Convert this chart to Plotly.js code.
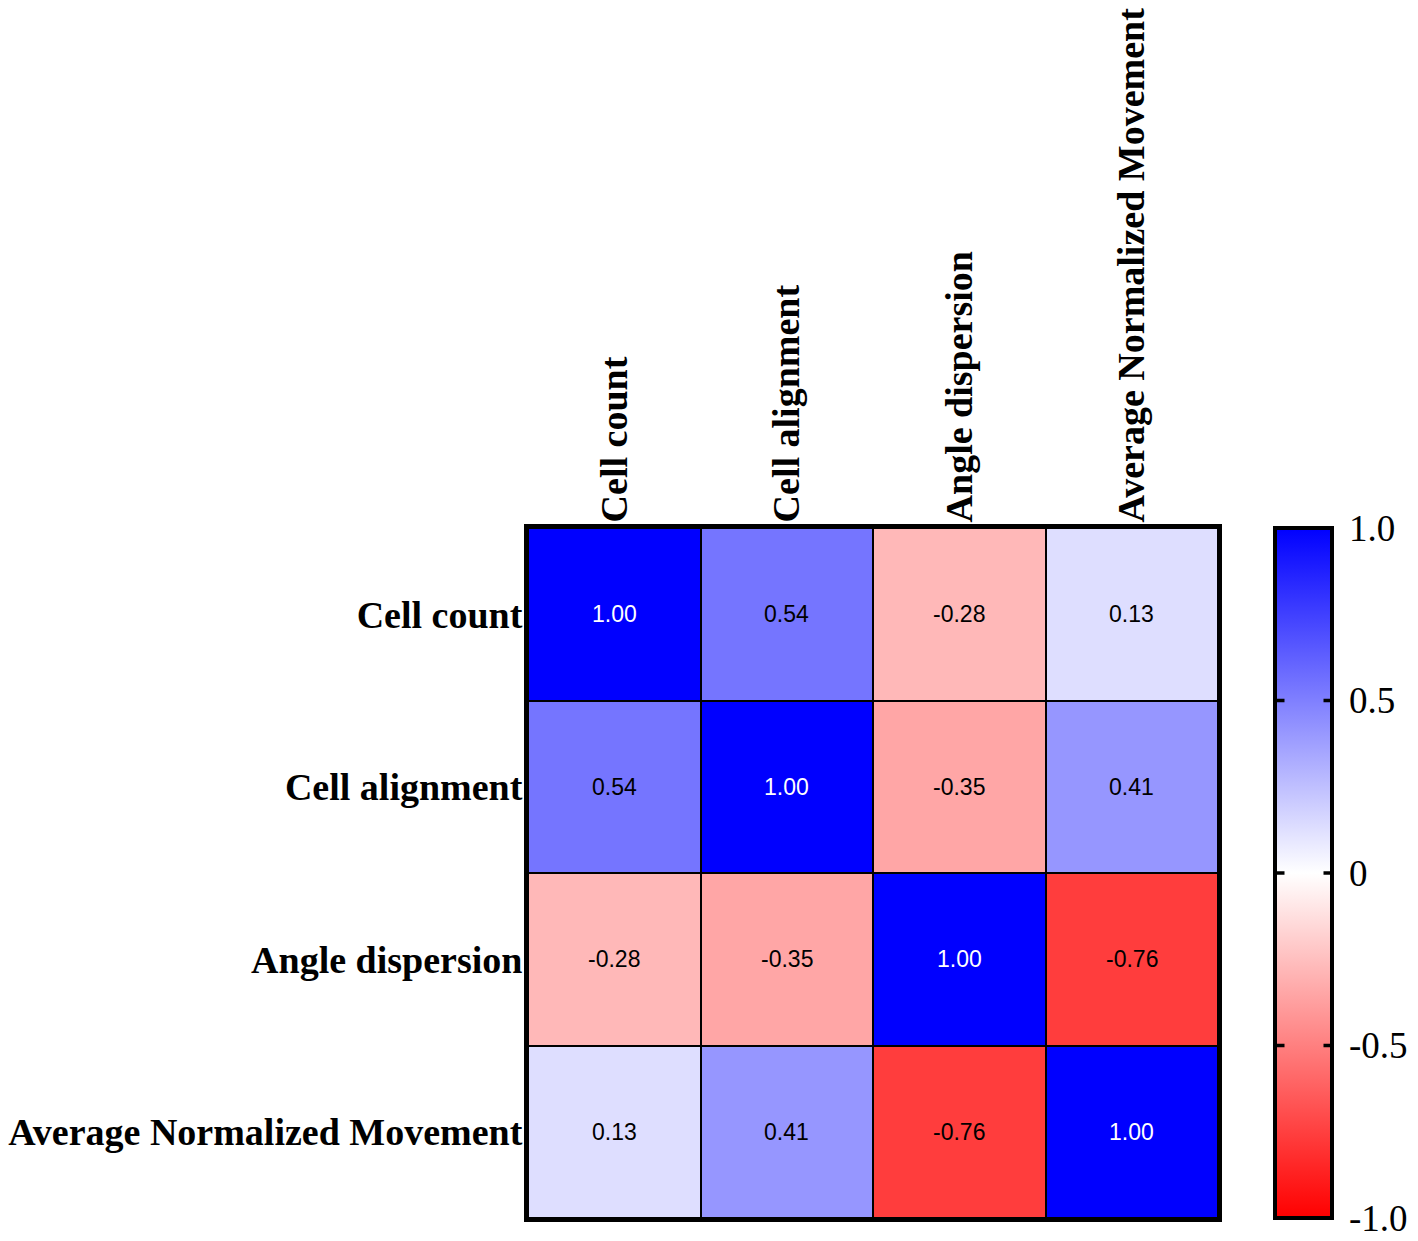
<!DOCTYPE html>
<html>
<head>
<meta charset="utf-8">
<script src="https://cdn.plot.ly/plotly-3.0.1.min.js"></script>
<style>html,body{margin:0;padding:0;background:#fff;}</style>
</head>
<body>
<div id="chart" style="width:1418px;height:1241px;"></div>
<script>
const categories = ["Cell count", "Cell alignment", "Angle dispersion", "Average Normalized Movement"];
const rowCellCount = [1.00, 0.54, -0.28, 0.13];
const rowCellAlignment = [0.54, 1.00, -0.35, 0.41];
const rowAngleDispersion = [-0.28, -0.35, 1.00, -0.76];
const rowAvgMovement = [0.13, 0.41, -0.76, 1.00];
const zValues = [rowCellCount, rowCellAlignment, rowAngleDispersion, rowAvgMovement];
const cbTickVals = [1.0, 0.5, 0, -0.5, -1.0];
const cbTickText = ["1.0", "0.5", "0", "-0.5", "-1.0"];

const annotations = [];
zValues.forEach((row, i) => {
  row.forEach((v, j) => {
    annotations.push({
      x: categories[j], y: categories[i], xref: 'x', yref: 'y',
      text: v.toFixed(2), showarrow: false,
      font: {family: 'Liberation Sans, Arial, sans-serif', size: 23, color: v >= 0.9 ? '#ffffff' : '#000000'}
    });
  });
});

// inner ticks on both sides of the colorbar (decoration, drawn as short arrowless lines)
const plotL = 528, plotW = 690;
const cbLeftPx = 1276, cbRightPx = 1332, tickLenPx = 10;
cbTickVals.filter(v => Math.abs(v) < 1).forEach(v => {
  const yy = (v + 1) / 2;
  annotations.push({xref: 'paper', yref: 'paper', x: (cbLeftPx - plotL) / plotW, y: yy,
    ax: tickLenPx, ay: 0, text: '', showarrow: true, arrowhead: 0, arrowwidth: 3.5,
    arrowcolor: '#000000', standoff: 0, startstandoff: 0});
  annotations.push({xref: 'paper', yref: 'paper', x: (cbRightPx - plotL) / plotW, y: yy,
    ax: -tickLenPx, ay: 0, text: '', showarrow: true, arrowhead: 0, arrowwidth: 3.5,
    arrowcolor: '#000000', standoff: 0, startstandoff: 0});
});

const trace = {
  type: 'heatmap',
  x: categories, y: categories, z: zValues,
  zmin: -1, zmax: 1,
  colorscale: [[0, '#ff0000'], [0.5, '#ffffff'], [1, '#0000ff']],
  xgap: 2, ygap: 2,
  hoverinfo: 'skip',
  colorbar: {
    x: (1275 - 528) / 690, xanchor: 'left', xref: 'paper',
    y: 0.5, yanchor: 'middle', len: 1, lenmode: 'fraction',
    thickness: 57, thicknessmode: 'pixels',
    xpad: 0, ypad: 0,
    outlinewidth: 4, outlinecolor: '#000',
    tickvals: cbTickVals, ticktext: cbTickText,
    ticks: 'outside', ticklen: 8, tickwidth: 1, tickcolor: 'rgba(0,0,0,0)',
    tickfont: {family: 'Liberation Serif, Times New Roman, serif', size: 37, color: '#000'}
  }
};

const layout = {
  width: 1418, height: 1241,
  margin: {l: 528, r: 200, t: 528, b: 23, pad: 0, autoexpand: false},
  paper_bgcolor: '#ffffff', plot_bgcolor: '#000000',
  xaxis: {
    side: 'top', tickangle: -90, type: 'category', automargin: false,
    showline: true, mirror: true, linewidth: 4, linecolor: '#000',
    showgrid: false, zeroline: false, ticks: '', ticklabelstandoff: -6,
    tickfont: {family: 'Liberation Serif, Times New Roman, serif', size: 38, color: '#000', weight: 'bold'}
  },
  yaxis: {
    autorange: 'reversed', type: 'category', automargin: false,
    showline: true, mirror: true, linewidth: 4, linecolor: '#000',
    showgrid: false, zeroline: false, ticks: '', ticklabelstandoff: -6,
    tickfont: {family: 'Liberation Serif, Times New Roman, serif', size: 38, color: '#000', weight: 'bold'}
  },
  annotations: annotations,
  showlegend: false
};

Plotly.newPlot('chart', [trace], layout, {displayModeBar: false, staticPlot: true});
</script>
</body>
</html>
